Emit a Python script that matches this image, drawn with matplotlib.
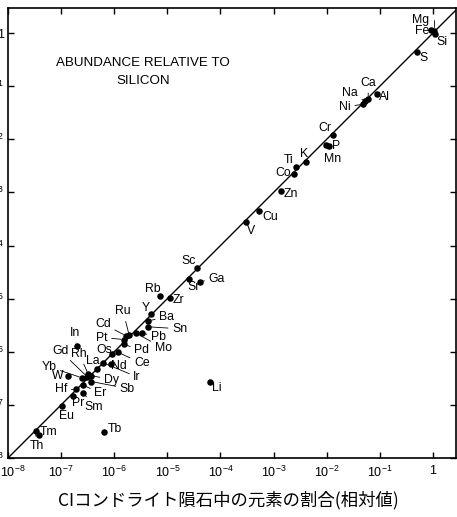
import matplotlib
matplotlib.use("Agg")
import matplotlib.pyplot as plt
import matplotlib.transforms as mtransforms
from matplotlib.ticker import FixedLocator, FixedFormatter, NullLocator

plt.rcParams['font.family'] = ['Liberation Sans', 'DejaVu Sans']
plt.rcParams['mathtext.fontset'] = 'custom'
plt.rcParams['mathtext.rm'] = 'Liberation Sans'
plt.rcParams['mathtext.it'] = 'Liberation Sans'
plt.rcParams['mathtext.bf'] = 'Liberation Sans'

# ---- data ----
elements = ["Mg", "Fe", "Si", "S", "Al", "Ca", "Na", "Ni", "Cr", "P", "Mn", "K", "Ti", "Co",
            "Zn", "Cu", "V", "Sc", "Ga", "Sr", "Rb", "Zr", "Y", "Ba", "Sn", "Pb", "Mo", "Ru",
            "Cd", "Pt", "Pd", "Os", "Ce", "Nd", "Ir", "La", "Dy", "Rh", "Gd", "Yb", "Sb", "W",
            "In", "Er", "Hf", "Sm", "Pr", "Eu", "Tm", "Th", "Tb", "Li"]
ci_abundance = [1.047, 0.912, 1.07, 0.501, 0.0891, 0.0603, 0.0525, 0.0479, 0.0132, 0.0110,
                0.00977, 0.00407, 0.00263, 0.00240, 0.00135, 5.37e-4, 3.02e-4, 3.63e-5,
                4.07e-5, 2.57e-5, 7.41e-6, 1.12e-5, 5.01e-6, 4.27e-6, 4.27e-6, 3.39e-6,
                2.57e-6, 1.91e-6, 1.66e-6, 1.51e-6, 1.51e-6, 9.12e-7, 1.17e-6, 8.51e-7,
                6.17e-7, 4.68e-7, 3.72e-7, 3.24e-7, 3.09e-7, 2.45e-7, 3.72e-7, 1.35e-7,
                1.95e-7, 2.63e-7, 1.91e-7, 2.63e-7, 1.70e-7, 1.02e-7, 3.89e-8, 3.31e-8,
                6.46e-7, 6.31e-5]
rel_abundance = [1.072, 1.135, 0.977, 0.437, 0.0708, 0.0575, 0.0525, 0.0457, 0.0120, 0.00741,
                 0.00776, 0.00372, 0.00295, 0.00219, 0.00107, 4.37e-4, 2.82e-4, 3.72e-5,
                 2.09e-5, 2.34e-5, 1.12e-5, 1.02e-5, 5.13e-6, 3.80e-6, 2.95e-6, 2.24e-6,
                 2.24e-6, 2.04e-6, 2.00e-6, 1.70e-6, 1.38e-6, 9.12e-7, 9.77e-7, 5.89e-7,
                 6.17e-7, 4.68e-7, 3.55e-7, 3.80e-7, 3.39e-7, 3.24e-7, 2.75e-7, 3.55e-7,
                 1.29e-6, 2.34e-7, 1.95e-7, 1.70e-7, 1.48e-7, 9.33e-8, 2.69e-8, 3.16e-8,
                 3.02e-8, 2.75e-7]
tick_values = [1e-8, 1e-7, 1e-6, 1e-5, 1e-4, 1e-3, 1e-2, 1e-1, 1]
tick_labels = ["$10^{-8}$", "$10^{-7}$", "$10^{-6}$", "$10^{-5}$", "$10^{-4}$",
               "$10^{-3}$", "$10^{-2}$", "$10^{-1}$", "1"]
x_label = "CIコンドライト隕石中の元素の割合(相対値)"
inset_title = "ABUNDANCE RELATIVE TO\nSILICON"

# ---- label placement (pixel offsets, leader line flag) ----
label_pos = {
    "Mg": (-13, 11, 'mg'), "Fe": (-9, -1, False), "Si": (7, -8, False), "S": (6, -6, False),
    "Ca": (0, 16, True), "Na": (-15, 8, True), "Al": (7, -3, False), "Ni": (-18, -3, True),
    "Cr": (-8, 7, False), "P": (7, 0, False), "Mn": (6, -14, True), "K": (-2, 8, False),
    "Ti": (-7, 7, False), "Co": (-11, 1, False), "Zn": (10, -3, False), "Cu": (11, -6, False),
    "V": (5, -9, False), "Sc": (-9, 7, False), "Ga": (17, 3, True), "Sr": (4, -8, False),
    "Rb": (-8, 7, False), "Zr": (8, -2, False), "Y": (-6, 6, False), "Ba": (19, 4, True),
    "Sn": (32, -2, True), "Pb": (16, -4, True), "Mo": (27, -15, True), "Ru": (-6, 24, True),
    "Cd": (-23, 12, True), "Pt": (-22, 2, True), "Pd": (18, -6, True), "Os": (-8, 4, False),
    "Ce": (24, -11, True), "Nd": (8, -2, False), "Ir": (34, -14, True), "La": (-4, 8, False),
    "Dy": (20, -4, True), "Sb": (36, -7, True), "Rh": (-9, 20, True), "Gd": (-27, 26, True),
    "Yb": (-33, 11, True), "W": (-10, 0, False), "In": (-2, 13, True), "Er": (17, -8, True),
    "Hf": (-15, 0, True), "Sm": (10, -14, True), "Pr": (5, -7, False), "Eu": (5, -10, False),
    "Tm": (9, 3, False), "Th": (1, -15, True), "Tb": (11, 3, False), "Li": (7, -6, False),
}

W, H = 457, 517
fig = plt.figure(figsize=(W / 100, H / 100), dpi=100)
ax = fig.add_axes([8 / W, (H - 458) / H, 448 / W, 450 / H])
ax.set_xscale('log')
ax.set_yscale('log')
xmax = 10 ** (-8 + 448 / 53.125)
ymax = 10 ** (-8 + 450 / 53.125)
ax.set_xlim(1e-8, xmax)
ax.set_ylim(1e-8, ymax)

# 1:1 line
ax.plot([1e-8, 10], [1e-8, 10], color='black', lw=1.0, zorder=2)
ax.scatter(ci_abundance, rel_abundance, s=22, color='black', zorder=3, linewidths=0)

for el, xv, yv in zip(elements, ci_abundance, rel_abundance):
    dx, dy, lead = label_pos[el]
    kw = dict(xy=(xv, yv), xytext=(dx, dy), textcoords='offset pixels',
              ha='center', va='center', fontsize=8.8, color='black', zorder=4)
    if lead == 'mg':
        kw['arrowprops'] = dict(arrowstyle='-', lw=0.6, color='black', shrinkA=1, shrinkB=3,
                                connectionstyle="angle,angleA=0,angleB=90,rad=0")
    elif lead:
        kw['arrowprops'] = dict(arrowstyle='-', lw=0.6, color='black', shrinkA=1, shrinkB=2)
    ax.annotate(el, **kw)

ax.text(0.301, 0.858, inset_title, transform=ax.transAxes, ha='center', va='center',
        fontsize=9.6, linespacing=1.75)

for axis in (ax.xaxis, ax.yaxis):
    axis.set_major_locator(FixedLocator(tick_values))
    axis.set_major_formatter(FixedFormatter(tick_labels))
    axis.set_minor_locator(NullLocator())
ax.tick_params(which='major', direction='in', length=4, width=1.0, top=True, right=True,
               labelsize=9, pad=3, colors='black')
ax.tick_params(axis='x', pad=5)
for sp in ax.spines.values():
    sp.set_linewidth(1.2)

fig.canvas.draw()
first = ax.get_xticklabels()[0]
first.set_horizontalalignment('left')
first.set_transform(first.get_transform() +
                    mtransforms.ScaledTranslation(-8 / 100, 0, fig.dpi_scale_trans))

fig.text(228 / W, 1 - 500 / H, x_label, ha='center', va='center', fontsize=12.5,
         family=['Noto Sans CJK JP', 'DejaVu Sans'])

fig.savefig("out.png", dpi=100, facecolor='white')
